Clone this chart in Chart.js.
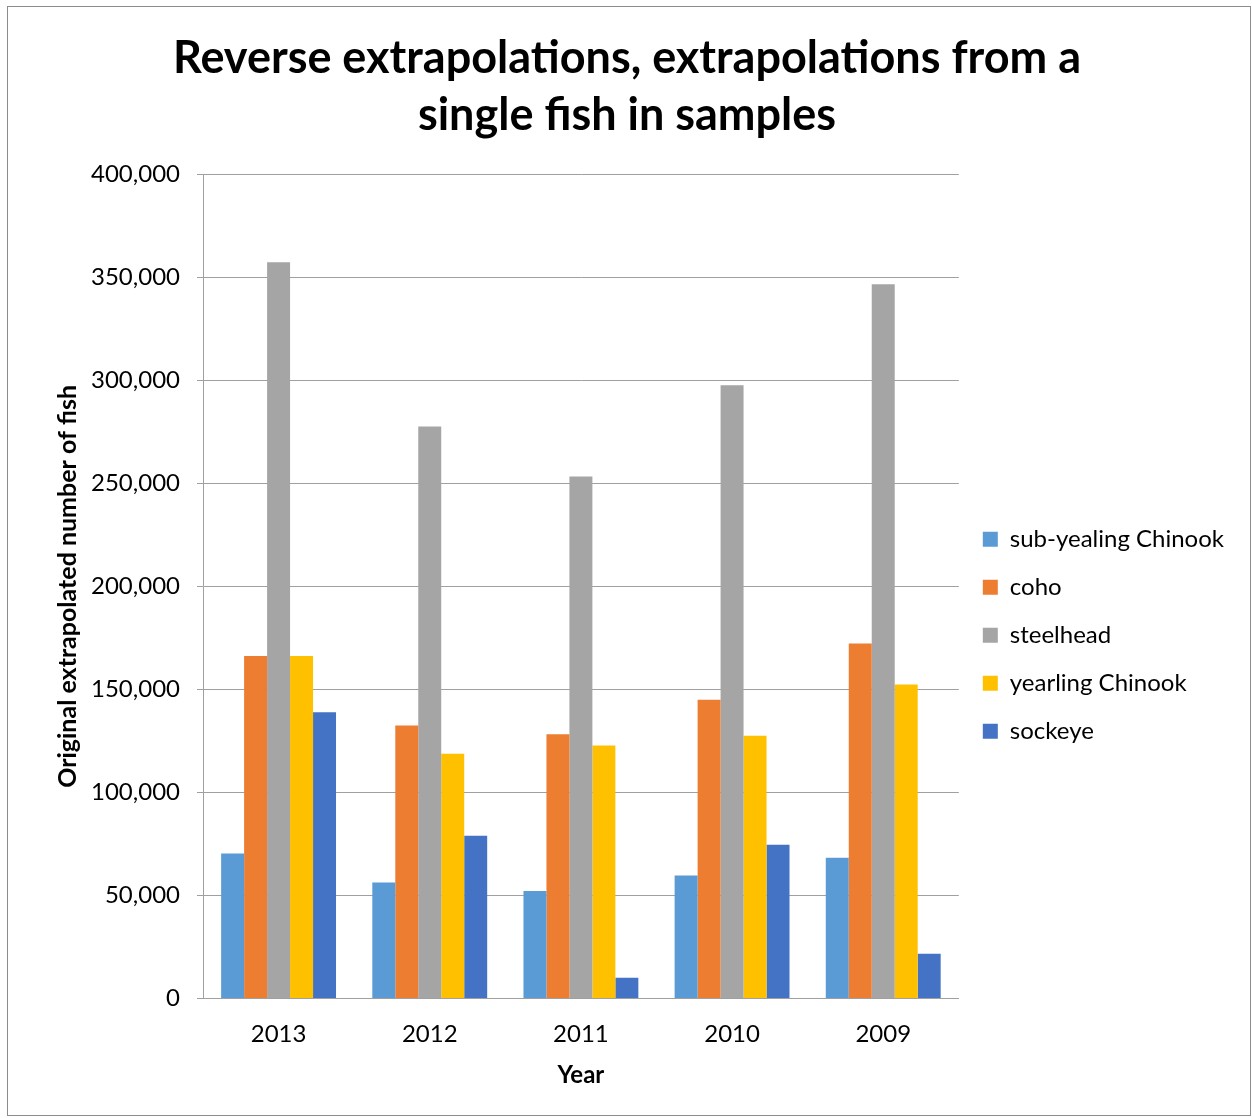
<!DOCTYPE html>
<html>
<head>
<meta charset="utf-8">
<script src="https://cdn.jsdelivr.net/npm/chart.js@4.4.0/dist/chart.umd.min.js"></script>
<style>
  body { margin: 0; background: #fff; }
  #frame { position: absolute; left: 7px; top: 6px; width: 1242px; height: 1108px; border: 1px solid #8c8c8c; }
  #wrap { position: absolute; left: 0; top: 0; width: 1252px; height: 1118px; }
</style>
</head>
<body>
<div id="frame"></div>
<div id="wrap"><canvas id="chart" width="1252" height="1118"></canvas></div>
<script>
// categories and series values
const years = ['2013', '2012', '2011', '2010', '2009'];
const subYearlingChinook = [70300, 56300, 52100, 59700, 68300];
const coho = [166200, 132500, 128200, 145000, 172200];
const steelhead = [357300, 277600, 253300, 297600, 346600];
const yearlingChinook = [166200, 118800, 122700, 127500, 152400];
const sockeye = [138900, 79000, 10000, 74600, 21700];

const seriesNames = ['sub-yealing Chinook', 'coho', 'steelhead', 'yearling Chinook', 'sockeye'];
const seriesColors = ['#5B9BD5', '#ED7D31', '#A5A5A5', '#FFC000', '#4472C4'];
const seriesData = [subYearlingChinook, coho, steelhead, yearlingChinook, sockeye];

const fontName = 'Lato, "Open Sans", sans-serif';

const ctx = document.getElementById('chart').getContext('2d');
new Chart(ctx, {
    type: 'bar',
    data: {
        labels: years,
        datasets: seriesData.map((d, i) => ({
            label: seriesNames[i],
            data: d,
            backgroundColor: seriesColors[i],
            borderWidth: 0
        }))
    },
    options: {
        responsive: false,
        animation: false,
        categoryPercentage: 0.76,
        barPercentage: 1.0,
        layout: { padding: { left: 20, right: 18, top: 30, bottom: 24 } },
        plugins: {
            title: {
                display: true,
                text: ['Reverse extrapolations, extrapolations from a', 'single fish in samples'],
                color: '#000',
                font: { family: fontName, size: 45, weight: 'bold', lineHeight: 1.27 },
                padding: { top: 0, bottom: 30 }
            },
            legend: {
                position: 'right',
                title: {
                    display: true,
                    text: ' ',
                    font: { size: 12 },
                    padding: 66
                },
                labels: {
                    color: '#000',
                    font: { family: fontName, size: 24 },
                    boxWidth: 15,
                    boxHeight: 15,
                    padding: 24
                }
            },
            tooltip: { enabled: false }
        },
        scales: {
            x: {
                grid: { display: false },
                border: { color: '#a0a0a0', width: 1 },
                ticks: { color: '#000', font: { family: fontName, size: 24 }, padding: 13 },
                title: {
                    display: true,
                    text: 'Year',
                    color: '#000',
                    font: { family: fontName, size: 24, weight: 'bold' },
                    padding: { top: 0, bottom: 4 }
                }
            },
            y: {
                min: 0,
                max: 400000,
                ticks: {
                    stepSize: 50000,
                    color: '#000',
                    font: { family: fontName, size: 24 },
                    padding: 17,
                    callback: v => v.toLocaleString('en-US')
                },
                grid: { color: '#a0a0a0', tickLength: 6, drawTicks: true },
                border: { color: '#a0a0a0', width: 1 },
                title: {
                    display: true,
                    text: 'Original extrapolated number of fish',
                    color: '#000',
                    font: { family: fontName, size: 25, weight: 'bold' },
                    padding: { top: 33, bottom: 10 }
                },
                afterFit: s => { s.width = 183; }
            }
        }
    }
});
</script>
</body>
</html>
